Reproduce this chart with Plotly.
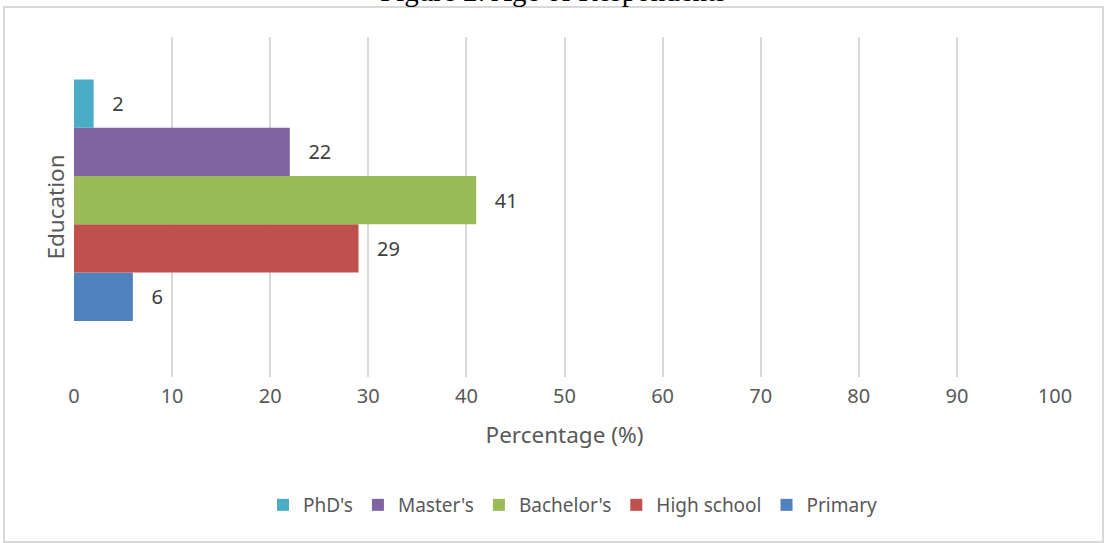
import plotly.graph_objects as go

# Data
levels = ["Primary", "High school", "Bachelor's", "Master's", "PhD's"]
values = [6, 29, 41, 22, 2]
colors = ["#4F81BD", "#C0504D", "#9BBB59", "#8064A2", "#4BACC6"]
category = ["Education"]
x_ticks = [0, 10, 20, 30, 40, 50, 60, 70, 80, 90, 100]

W, H = 1104, 543
L, R, T, B = 74, 49, 37, 166
plot_w = W - L - R
plot_h = H - T - B

def px_x(px):
    return (px - L) / plot_w

def px_y(py):
    return (H - B - py) / plot_h

fig = go.Figure()
for name, v, c in zip(levels, values, colors):
    fig.add_trace(go.Bar(
        y=category, x=[v], name=name, orientation="h",
        marker=dict(color=c, line=dict(width=0)),
        text=[v], texttemplate="   %{x}", textposition="outside",
        textfont=dict(family="Noto Sans", size=20, color="#404040"),
        cliponaxis=False,
    ))

fig.update_layout(
    width=W, height=H,
    margin=dict(l=L, r=R, t=T, b=B),
    paper_bgcolor="white", plot_bgcolor="white",
    barmode="group", bargap=0.29, bargroupgap=0,
    font=dict(family="Noto Sans", color="#595959"),
    showlegend=True,
    legend=dict(orientation="h", x=px_x(573), xanchor="center",
                y=px_y(505), yanchor="middle", traceorder="reversed",
                font=dict(size=19, color="#595959"), itemwidth=30),
    xaxis=dict(range=[0, 100], tickvals=x_ticks, showgrid=True,
               gridcolor="#D9D9D9", gridwidth=2, zeroline=False,
               showline=False, ticks="", ticklabelstandoff=5,
               tickfont=dict(size=20, color="#595959"),
               title=dict(text="Percentage (%)", font=dict(size=22.5, color="#595959"),
                          standoff=19)),
    yaxis=dict(showticklabels=False, showgrid=False, zeroline=False,
               showline=False, ticks="", range=[-0.52, 0.48],
               title=dict(text="Education", font=dict(size=22.5, color="#595959"),
                          standoff=2)),
    shapes=[dict(type="rect", xref="paper", yref="paper",
                 x0=px_x(4), x1=px_x(1103), y0=px_y(542), y1=px_y(7),
                 line=dict(color="#D9D9D9", width=2), layer="below")],
    annotations=[dict(text="Figure 2: Age of Respondents", xref="paper", yref="paper",
                      x=px_x(553), y=px_y(9), xanchor="center", yanchor="bottom",
                      showarrow=False,
                      font=dict(family="Liberation Serif", size=29, color="black"))],
)

fig.write_html("out.html", config={"displayModeBar": False},
               post_script="document.body.style.margin='0';")
